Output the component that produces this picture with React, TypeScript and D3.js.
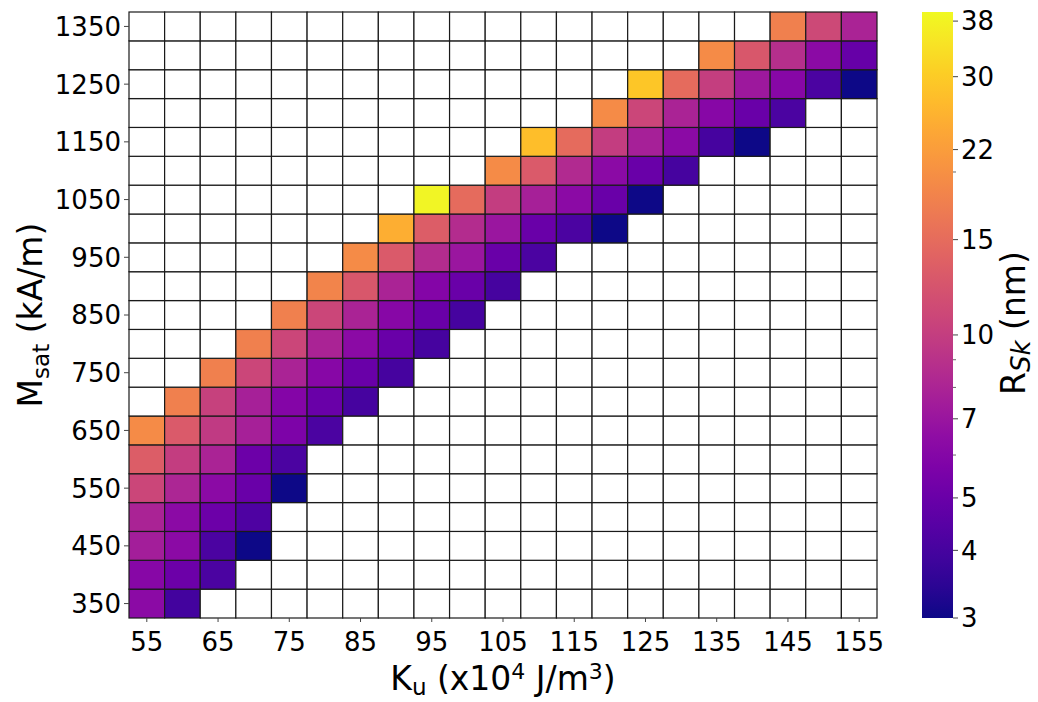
import React from "react";
import * as d3 from "d3";

// Ku in x10^4 J/m^3, Msat in kA/m
const ku = [55, 60, 65, 70, 75, 80, 85, 90, 95, 100, 105, 110, 115, 120, 125, 130, 135, 140, 145, 150, 155];
const msat = [350, 400, 450, 500, 550, 600, 650, 700, 750, 800, 850, 900, 950, 1000, 1050, 1100, 1150, 1200, 1250, 1300, 1350];

// first Ku with a stable skyrmion, one per Msat row
const bandStart = [55, 55, 55, 55, 55, 55, 55, 60, 65, 70, 75, 80, 85, 90, 95, 105, 110, 120, 125, 135, 145];

// skyrmion radius (nm) along each row, starting at bandStart
const rsk = [
  [6.3, 3.9],
  [6.1, 5.1, 4.1],
  [7.5, 6.3, 4.1, 3.0],
  [7.9, 6.3, 5.1, 4.2],
  [10.8, 8.1, 6.3, 5.0, 3.0],
  [13.2, 10.0, 7.9, 5.1, 4.1],
  [19.2, 12.9, 9.7, 7.7, 5.7, 4.1],
  [17.8, 10.3, 7.7, 6.0, 5.0, 4.0],
  [17.8, 10.8, 7.9, 6.1, 5.0, 4.0],
  [17.8, 10.8, 7.9, 6.3, 5.0, 4.0],
  [17.8, 10.8, 7.9, 6.1, 5.0, 4.0],
  [18.2, 12.6, 7.9, 6.0, 5.0, 4.0],
  [19.2, 12.8, 8.6, 7.0, 5.0, 4.1],
  [24.8, 13.2, 8.6, 7.0, 5.0, 4.1, 3.0],
  [38.5, 14.9, 10.0, 7.7, 6.3, 5.0, 3.0],
  [19.2, 12.9, 8.4, 6.3, 5.0, 4.0],
  [27.5, 14.9, 10.0, 7.7, 6.3, 4.0, 3.0],
  [19.2, 10.8, 7.9, 6.1, 5.0, 4.1],
  [29.0, 14.9, 10.1, 7.2, 6.1, 4.1, 3.0],
  [19.2, 12.6, 8.8, 6.3, 4.9],
  [17.8, 11.0, 7.9],
];

const xTicks = [55, 65, 75, 85, 95, 105, 115, 125, 135, 145, 155];
const yTicks = [350, 450, 550, 650, 750, 850, 950, 1050, 1150, 1250, 1350];
const cbTicks = [3, 4, 5, 7, 10, 15, 22, 30, 38];
const cbMinor = [6, 8, 9, 20];
const cbDomain = [3, 39.5];

const W = 1038;
const H = 702;
const plot = { left: 129, top: 12, width: 748, height: 606 };
const bar = { left: 922, width: 31 };
const font = "DejaVu Sans";

export default function App() {
  const x = d3.scaleBand<number>().domain(ku).range([plot.left, plot.left + plot.width]);
  const y = d3.scaleBand<number>().domain(msat).range([plot.top + plot.height, plot.top]);
  const color = d3.scaleSequentialLog(d3.interpolatePlasma).domain(cbDomain);
  const cb = d3.scaleLog().domain(cbDomain).range([plot.top + plot.height, plot.top]);

  const cells: { k: number; m: number; v: number | null }[] = [];
  msat.forEach((m, r) => {
    const i0 = ku.indexOf(bandStart[r]);
    ku.forEach((k, c) => {
      const j = c - i0;
      const v = j >= 0 && j < rsk[r].length ? rsk[r][j] : null;
      cells.push({ k, m, v });
    });
  });

  const stops = d3.range(0, 1.0001, 0.05);
  const barRight = bar.left + bar.width;

  return (
    <svg width={W} height={H} style={{ position: "absolute", left: 0, top: 0 }} fontFamily={font}>
      <defs>
        <linearGradient id="plasma" x1="0" y1="1" x2="0" y2="0">
          {stops.map((t) => (
            <stop key={t} offset={t} stopColor={d3.interpolatePlasma(t)} />
          ))}
        </linearGradient>
      </defs>
      <rect width={W} height={H} fill="white" />

      {/* heatmap cells */}
      {cells.map((d) => (
        <rect
          key={`${d.k}-${d.m}`}
          x={x(d.k)}
          y={y(d.m)}
          width={x.bandwidth()}
          height={y.bandwidth()}
          fill={d.v == null ? "white" : color(d.v)}
          stroke="#1a1a1a"
          strokeWidth={1.2}
        />
      ))}

      {/* y axis */}
      {yTicks.map((t) => {
        const cy = (y(t) as number) + y.bandwidth() / 2;
        return (
          <g key={t}>
            <line x1={plot.left - 5} x2={plot.left} y1={cy} y2={cy} stroke="#444" strokeWidth={1} />
            <text x={plot.left - 8} y={cy} dy="0.36em" textAnchor="end" fontSize={26}>
              {t}
            </text>
          </g>
        );
      })}

      {/* x axis */}
      {xTicks.map((t) => {
        const cx = (x(t) as number) + x.bandwidth() / 2;
        return (
          <g key={t}>
            <line x1={cx} x2={cx} y1={plot.top + plot.height} y2={plot.top + plot.height + 4} stroke="#444" />
            <text x={cx} y={642} dy="0.36em" textAnchor="middle" fontSize={26}>
              {t}
            </text>
          </g>
        );
      })}

      <text x={plot.left + plot.width / 2} y={690} textAnchor="middle" fontSize={33}>
        K<tspan fontSize={23} dy={5}>u</tspan>
        <tspan dy={-5}> (x10</tspan>
        <tspan fontSize={22} dy={-11}>4</tspan>
        <tspan dy={11}> J/m</tspan>
        <tspan fontSize={22} dy={-11}>3</tspan>
        <tspan dy={11}>)</tspan>
      </text>

      <text transform={`translate(42,${plot.top + plot.height / 2}) rotate(-90)`} textAnchor="middle" fontSize={33}>
        M<tspan fontSize={23} dy={7}>sat</tspan>
        <tspan dy={-7}> (kA/m)</tspan>
      </text>

      {/* colorbar */}
      <rect x={bar.left} y={plot.top} width={bar.width} height={plot.height} fill="url(#plasma)" />
      {cbTicks.map((t) => (
        <g key={t}>
          <line x1={barRight} x2={barRight + 5} y1={cb(t)} y2={cb(t)} stroke="#444" />
          <text x={barRight + 8} y={cb(t)} dy="0.36em" fontSize={26}>
            {t}
          </text>
        </g>
      ))}
      {cbMinor.map((t) => (
        <line key={t} x1={barRight} x2={barRight + 3} y1={cb(t)} y2={cb(t)} stroke="#666" />
      ))}
      <text transform={`translate(1025,${plot.top + plot.height / 2 + 8}) rotate(-90)`} textAnchor="middle" fontSize={33}>
        R<tspan fontSize={26} dy={5} fontStyle="italic">Sk</tspan>
        <tspan dy={-5}> (nm)</tspan>
      </text>
    </svg>
  );
}
